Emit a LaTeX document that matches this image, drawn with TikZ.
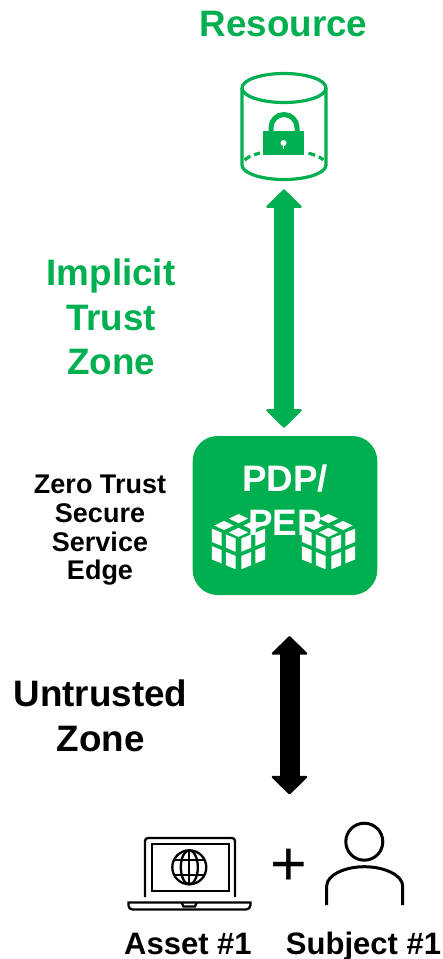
\documentclass[tikz,border=0pt]{standalone}
\usepackage{fontspec}
\setmainfont{Liberation Sans}
\usetikzlibrary{arrows.meta}
\definecolor{ztgreen}{HTML}{00B050}
\tikzset{
  biglabel/.style={font=\bfseries\fontsize{36.8}{44.5}\selectfont, align=center, inner sep=0pt},
  smalllabel/.style={font=\bfseries\fontsize{27}{28.7}\selectfont, align=center, inner sep=0pt},
  iconlabel/.style={font=\bfseries\fontsize{31}{36}\selectfont, inner sep=0pt, anchor=base},
  dblarrow/.style={line width=20pt, {Triangle[round, line width=2pt, length=19pt, width=38pt]}-{Triangle[round, line width=2pt, length=19pt, width=38pt]}},
  pics/rubik/.style={code={
    \begin{scope}[shift={(0,-26.3)}, x={(14.5pt,-6.9pt)}, y={(-14.5pt,-6.9pt)}]
      \foreach \i in {0,1} \foreach \j in {0,1}
        \fill[white] (\i+.17,\j+.17) -- ++(.66,0) -- ++(0,.66) -- ++(-.66,0) -- cycle;
    \end{scope}
    \begin{scope}[shift={(-27.5,-11.5)}, x={(14pt,-5.8pt)}, y={(0pt,-17.5pt)}]
      \foreach \i in {0,1} \foreach \j in {0,1}
        \fill[white] (\i+.06,\j+.1) -- ++(.7,0) -- ++(0,.76) -- ++(-.7,0) -- cycle;
    \end{scope}
    \begin{scope}[shift={(27.5,-11.5)}, x={(-14pt,-5.8pt)}, y={(0pt,-17.5pt)}]
      \foreach \i in {0,1} \foreach \j in {0,1}
        \fill[white] (\i+.06,\j+.1) -- ++(.7,0) -- ++(0,.76) -- ++(-.7,0) -- cycle;
    \end{scope}
  }}
}
\begin{document}
\begin{tikzpicture}[x=1pt, y=-1pt]
\useasboundingbox (0,0) rectangle (443,959);

\node[biglabel, text=ztgreen] (title) at (283.5,24) {Resource};
\node[biglabel, text=ztgreen] (implicit) at (111,317) {Implicit\\Trust\\Zone};
\node[smalllabel] (sse) at (100,530.5) {Zero Trust\\Secure\\Service\\Edge};
\node[biglabel] (untrusted) at (100.5,716) {Untrusted\\Zone};
\node[iconlabel] (asset) at (188,954) {Asset \#1};
\node[iconlabel] (subject) at (363.5,954) {Subject \#1};

% resource cylinder
\node[minimum width=88pt, minimum height=106pt, inner sep=0pt] (resource) at (284,127) {};
\begin{scope}[draw=ztgreen, line width=3.2pt]
  \draw (284,88) ellipse [x radius=42, y radius=14.5];
  \draw (242,88) -- (242,165) arc [start angle=180, end angle=0, x radius=42, y radius=14.5] -- (326,88);
  \draw[dash pattern=on 7pt off 4pt] (244.5,160) arc [start angle=200, end angle=340, x radius=42, y radius=14.5];
\end{scope}
% lock
\fill[white] (260,126) rectangle (307,157);
\draw[ztgreen, line width=5pt] (271,132) -- (271,127.5) arc [start angle=180, end angle=360, radius=13] -- (297,132);
\fill[ztgreen] (263.3,130.7) rectangle (304,155);
\fill[white] (283.5,143) circle (3);
\fill[white] (282.6,144) rectangle (284.4,148.5);

% gateway box
\node[fill=ztgreen, rounded corners=25pt, minimum width=184.6pt, minimum height=159pt, inner sep=0pt] (pdp) at (285,515.5) {};
\node[biglabel, text=white] (pdplabel) at (285,500) {PDP/\\PEP};
\pic at (238.5,538) {rubik};
\pic at (328.5,538) {rubik};

\draw[dblarrow, ztgreen, shorten <=9pt, shorten >=8pt] (resource.south) -- (resource.south |- pdp.north);
\coordinate (edgetop) at (289.5,636);
\coordinate (edgebottom) at (289.5,794.5);
\draw[dblarrow, black] (edgetop) -- (edgebottom);

% laptop
\begin{scope}[line width=2.3pt]
  \draw (145,897) -- (145,841) arc [start angle=180, end angle=270, radius=3] -- (232,838) arc [start angle=270, end angle=360, radius=3] -- (235,897);
  \draw (151.7,844) rectangle (229,890.7);
  \draw (128.5,902.5) -- (250.5,902.5) -- (250.5,905) arc [start angle=0, end angle=90, radius=4.5] -- (132.5,909.5) arc [start angle=90, end angle=180, radius=4] -- cycle;
  \draw (181.7,902.5) -- (183.5,906.5) -- (195,906.5) -- (196.7,902.5);
  \draw (189.3,867.3) circle (17);
  \draw (189.3,867.3) ellipse [x radius=8.5, y radius=17];
  \draw (189.3,850.3) -- (189.3,884.3);
  \draw (174,860) -- (204.6,860);
  \draw (174,875) -- (204.6,875);
\end{scope}
\node[font=\fontsize{63}{63}\selectfont, inner sep=0pt] (plus) at (289.3,867.3) {+};
% person
\begin{scope}[line width=3pt]
  \draw (364.3,841.7) circle (18.5);
  \draw (326.7,905) -- (326.7,886) .. controls (326.7,875) and (345,866.7) .. (364.3,866.7) .. controls (384,866.7) and (402.7,875) .. (402.7,886) -- (402.7,905);
\end{scope}
\end{tikzpicture}
\end{document}
